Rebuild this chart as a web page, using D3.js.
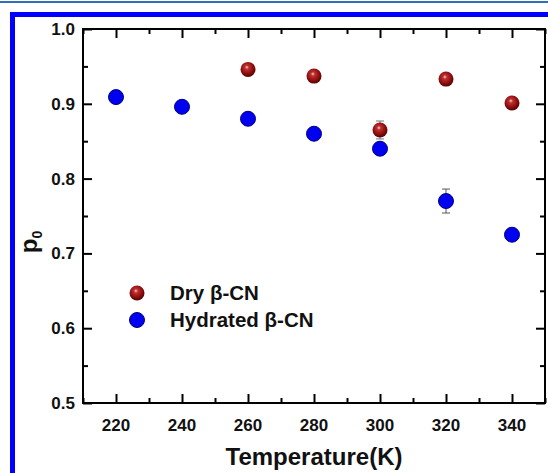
<!DOCTYPE html>
<html>
<head>
<meta charset="utf-8">
<script src="https://cdn.jsdelivr.net/npm/d3@7"></script>
<style>
  html, body { margin: 0; padding: 0; background: #fff; }
  svg { display: block; font-family: Arial, "Liberation Sans", sans-serif; }
</style>
</head>
<body>
<svg id="chart" width="548" height="473"></svg>
<script>
// Temperatures (K) and fitted p0 values for both samples
const dryTemps = [260, 280, 300, 320, 340];
const dryValues = [0.946, 0.937, 0.865, 0.933, 0.901];
const dryErrors = [0, 0, 0.012, 0, 0];

const hydTemps = [220, 240, 260, 280, 300, 320, 340];
const hydValues = [0.909, 0.896, 0.880, 0.860, 0.840, 0.770, 0.725];
const hydErrors = [0, 0, 0, 0, 0, 0.016, 0];

const xTickLabels = [220, 240, 260, 280, 300, 320, 340];
const yTickLabels = ["0.5", "0.6", "0.7", "0.8", "0.9", "1.0"];
const legendLabels = ["Dry β-CN", "Hydrated β-CN"];

const svg = d3.select("#chart");
const W = 548, H = 473;

// page decoration: thin rule and thick blue frame
svg.append("rect").attr("x", 0).attr("y", 1).attr("width", W).attr("height", 2).attr("fill", "#2f6fb7");
svg.append("rect").attr("x", 12.5).attr("y", 14.5).attr("width", W).attr("height", H)
  .attr("fill", "none").attr("stroke", "#0000ff").attr("stroke-width", 5);

const plotL = 83, plotR = 545, plotT = 29, plotB = 403;
const x = d3.scaleLinear().domain([210, 350]).range([plotL, plotR]);
const y = d3.scaleLinear().domain([0.5, 1.0]).range([plotB, plotT]);

const defs = svg.append("defs");
const grad = defs.append("radialGradient").attr("id", "sphere")
  .attr("cx", "45%").attr("cy", "40%").attr("r", "60%").attr("fx", "42%").attr("fy", "35%");
grad.append("stop").attr("offset", "0%").attr("stop-color", "#f4d0d0");
grad.append("stop").attr("offset", "22%").attr("stop-color", "#c03030");
grad.append("stop").attr("offset", "70%").attr("stop-color", "#8a0c0c");
grad.append("stop").attr("offset", "100%").attr("stop-color", "#500404");

const g = svg.append("g");

// axes: ticks point inward on all four sides
const majorX = d3.range(220, 341, 20), minorX = d3.range(210, 351, 10).filter(v => v % 20 !== 0);
const majorY = d3.range(0.5, 1.001, 0.1), minorY = d3.range(0.55, 1.0, 0.1);

function drawAxis(axisGen, transform, major, minor, len, minorLen) {
  const a = g.append("g").attr("transform", transform);
  a.call(axisGen.tickValues(major).tickSize(-len).tickFormat(""));
  a.selectAll(".tick line").attr("stroke", "#000").attr("stroke-width", 2);
  a.select(".domain").remove();
  const b = g.append("g").attr("transform", transform);
  b.call(axisGen.tickValues(minor).tickSize(-minorLen).tickFormat(""));
  b.selectAll(".tick line").attr("stroke", "#000").attr("stroke-width", 2);
  b.select(".domain").remove();
}
drawAxis(d3.axisBottom(x), `translate(0,${plotB})`, majorX, minorX, 9, 5);
drawAxis(d3.axisTop(x), `translate(0,${plotT})`, majorX, minorX, 9, 5);
drawAxis(d3.axisLeft(y), `translate(${plotL},0)`, majorY, minorY, 9, 5);
drawAxis(d3.axisRight(y), `translate(${plotR},0)`, majorY, minorY, 9, 5);

g.append("rect").attr("x", plotL).attr("y", plotT).attr("width", plotR - plotL).attr("height", plotB - plotT)
  .attr("fill", "none").attr("stroke", "#000").attr("stroke-width", 2);

// tick labels
g.selectAll(".xl").data(xTickLabels).join("text")
  .attr("x", d => x(d)).attr("y", plotB + 28).attr("text-anchor", "middle")
  .attr("font-size", 17).attr("font-weight", "bold").attr("fill", "#111").text(d => d);
g.selectAll(".yl").data(yTickLabels).join("text")
  .attr("x", plotL - 8).attr("y", d => y(+d) + 6).attr("text-anchor", "end")
  .attr("font-size", 17).attr("font-weight", "bold").attr("fill", "#111").text(d => d);

// axis titles
svg.append("text").attr("x", 314).attr("y", 465).attr("text-anchor", "middle")
  .attr("font-size", 24).attr("font-weight", "bold").attr("fill", "#111").text("Temperature(K)");
const yt = svg.append("text").attr("transform", "translate(37,242) rotate(-90)")
  .attr("text-anchor", "middle").attr("font-weight", "bold").attr("fill", "#111");
yt.append("tspan").attr("font-size", 24).text("p");
yt.append("tspan").attr("font-size", 14).attr("dy", 5).text("0");

// error bars
function errBars(temps, vals, errs, color) {
  const d = temps.map((t, i) => ({ t, v: vals[i], e: errs[i] })).filter(p => p.e > 0);
  const eb = g.append("g").attr("stroke", color).attr("stroke-width", 1);
  d.forEach(p => {
    eb.append("line").attr("x1", x(p.t)).attr("x2", x(p.t)).attr("y1", y(p.v - p.e)).attr("y2", y(p.v + p.e));
    [p.v - p.e, p.v + p.e].forEach(v => eb.append("line")
      .attr("x1", x(p.t) - 4).attr("x2", x(p.t) + 4).attr("y1", y(v)).attr("y2", y(v)));
  });
}
errBars(dryTemps, dryValues, dryErrors, "#777");
errBars(hydTemps, hydValues, hydErrors, "#555");

// markers
g.selectAll(".dry").data(dryTemps).join("circle")
  .attr("cx", d => x(d)).attr("cy", (d, i) => y(dryValues[i])).attr("r", 7.5)
  .attr("fill", "url(#sphere)");
g.selectAll(".hyd").data(hydTemps).join("circle")
  .attr("cx", d => x(d)).attr("cy", (d, i) => y(hydValues[i])).attr("r", 7.5)
  .attr("fill", "#0000f0").attr("stroke", "#000080").attr("stroke-width", 1);

// legend
const lg = svg.append("g");
lg.append("circle").attr("cx", 137).attr("cy", 293).attr("r", 7.5).attr("fill", "url(#sphere)");
lg.append("circle").attr("cx", 137).attr("cy", 320).attr("r", 7.5).attr("fill", "#0000f0")
  .attr("stroke", "#000080").attr("stroke-width", 1);
lg.selectAll("text").data(legendLabels).join("text")
  .attr("x", 170).attr("y", (d, i) => 300 + i * 27)
  .attr("font-size", 20.5).attr("font-weight", "bold").attr("fill", "#111").text(d => d);
</script>
</body>
</html>
